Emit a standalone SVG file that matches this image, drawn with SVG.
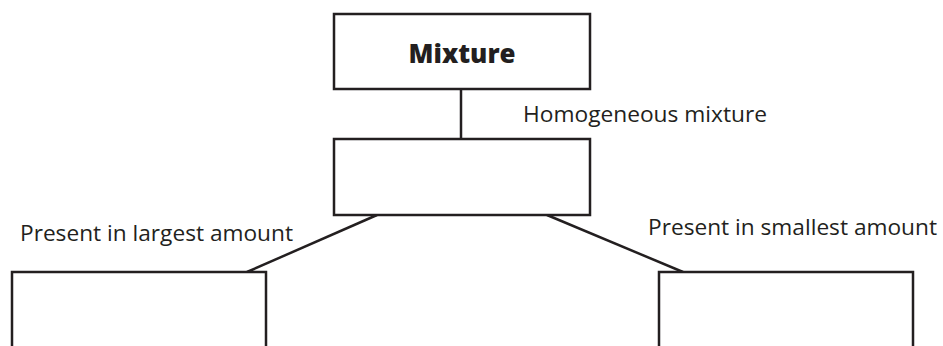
<svg xmlns="http://www.w3.org/2000/svg" width="943" height="346" viewBox="0 0 943 346">
<style>
.box{fill:#fff;stroke:#231f20;stroke-width:2.5}
.conn{stroke:#231f20;stroke-width:2.5;fill:none}
.lbl{font-family:"Open Sans","Noto Sans",sans-serif;font-size:22px;fill:#231f20}
.title{font-family:"Open Sans","Liberation Sans",sans-serif;font-weight:800;font-size:27px;fill:#231f20}
</style>
<rect width="943" height="346" fill="#fff"/>
<g id="connectors">
<line class="conn" x1="461" y1="89" x2="461" y2="139"/>
<line class="conn" x1="377" y1="215" x2="247" y2="272"/>
<line class="conn" x1="547" y1="215" x2="683" y2="272"/>
</g>
<g id="mixture">
<rect class="box" x="334" y="14" width="256" height="75"/>
<text class="title" x="462" y="63" text-anchor="middle" textLength="107" lengthAdjust="spacingAndGlyphs">Mixture</text>
</g>
<g id="homogeneous">
<rect class="box" x="334" y="139" width="256" height="76"/>
<text class="lbl" x="523" y="122" textLength="244" lengthAdjust="spacingAndGlyphs">Homogeneous mixture</text>
</g>
<g id="largest">
<rect class="box" x="12" y="272" width="254" height="90"/>
<text class="lbl" x="20" y="241" textLength="273" lengthAdjust="spacingAndGlyphs">Present in largest amount</text>
</g>
<g id="smallest">
<rect class="box" x="659" y="272" width="254" height="90"/>
<text class="lbl" x="648" y="235" textLength="289" lengthAdjust="spacingAndGlyphs">Present in smallest amount</text>
</g>
</svg>
